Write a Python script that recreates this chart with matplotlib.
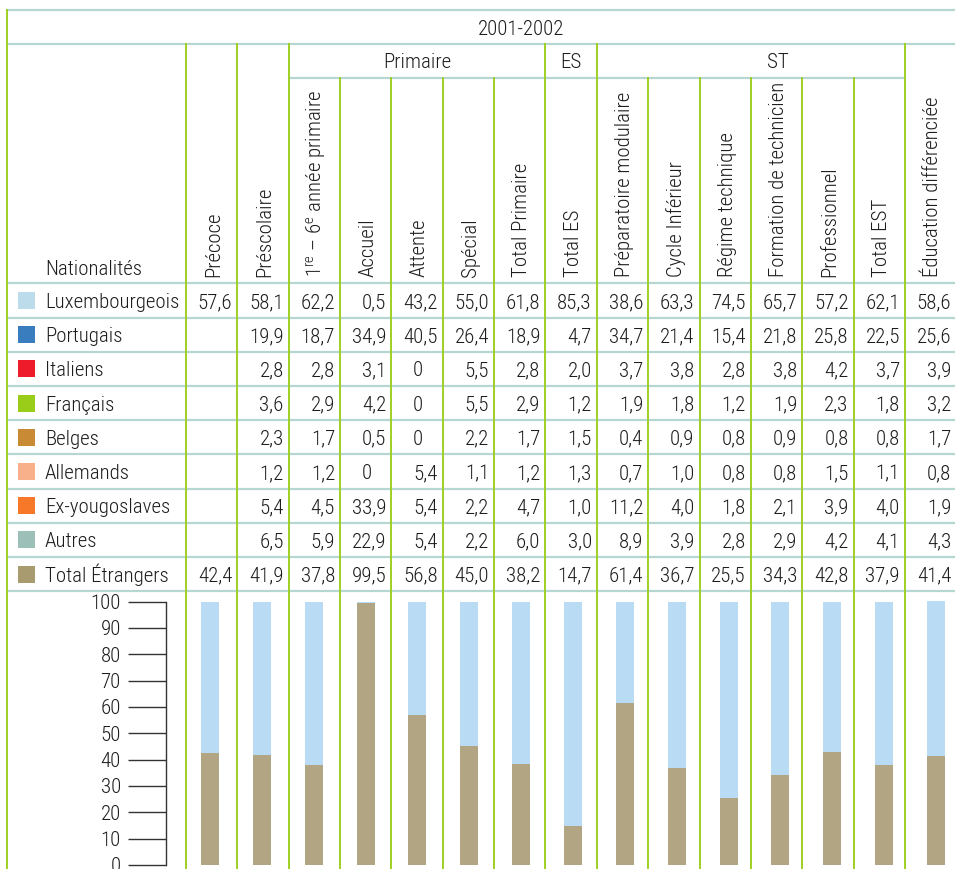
import numpy as np
import matplotlib
matplotlib.use('Agg')
import matplotlib.pyplot as plt
from matplotlib import font_manager

# police étroite : on prend la première dispo
_names = {f.name for f in font_manager.fontManager.ttflist}
FONT = next((n for n in ['Roboto Condensed', 'Fira Sans Condensed', 'Open Sans']
             if n in _names), 'DejaVu Sans')
plt.rcParams['font.family'] = [FONT, 'DejaVu Sans']
plt.rcParams['font.weight'] = 'light'
plt.rcParams['font.stretch'] = 'condensed'
plt.rcParams['mathtext.fontset'] = 'custom'
plt.rcParams['mathtext.rm'] = f'{FONT}:light'
plt.rcParams['mathtext.it'] = f'{FONT}:light'

YEAR = '2001-2002'
COLUMNS = ['Précoce', 'Préscolaire', '1$^{\\mathrm{re}}$ – 6$^{\\mathrm{e}}$ année primaire',
           'Accueil', 'Attente', 'Spécial', 'Total Primaire', 'Total ES',
           'Préparatoire modulaire', 'Cycle Inférieur', 'Régime technique',
           'Formation de technicien', 'Professionnel', 'Total EST',
           'Éducation différenciée']
GROUPS = [('Primaire', 2, 6), ('ES', 7, 7), ('ST', 8, 13)]

NATIONALITIES = ['Luxembourgeois', 'Portugais', 'Italiens', 'Français', 'Belges',
                 'Allemands', 'Ex-yougoslaves', 'Autres', 'Total Étrangers']
NAT_COLORS = ['#bcdcec', '#3a7dbf', '#ee1c2a', '#9acd1a', '#c98a36',
              '#f8b08a', '#f8782a', '#9cc0b8', '#a89b70']

luxembourgeois = [57.6, 58.1, 62.2, 0.5, 43.2, 55.0, 61.8, 85.3, 38.6, 63.3, 74.5, 65.7, 57.2, 62.1, 58.6]
portugais      = [None, 19.9, 18.7, 34.9, 40.5, 26.4, 18.9, 4.7, 34.7, 21.4, 15.4, 21.8, 25.8, 22.5, 25.6]
italiens       = [None, 2.8, 2.8, 3.1, 0, 5.5, 2.8, 2.0, 3.7, 3.8, 2.8, 3.8, 4.2, 3.7, 3.9]
francais       = [None, 3.6, 2.9, 4.2, 0, 5.5, 2.9, 1.2, 1.9, 1.8, 1.2, 1.9, 2.3, 1.8, 3.2]
belges         = [None, 2.3, 1.7, 0.5, 0, 2.2, 1.7, 1.5, 0.4, 0.9, 0.8, 0.9, 0.8, 0.8, 1.7]
allemands      = [None, 1.2, 1.2, 0, 5.4, 1.1, 1.2, 1.3, 0.7, 1.0, 0.8, 0.8, 1.5, 1.1, 0.8]
ex_yougoslaves = [None, 5.4, 4.5, 33.9, 5.4, 2.2, 4.7, 1.0, 11.2, 4.0, 1.8, 2.1, 3.9, 4.0, 1.9]
autres         = [None, 6.5, 5.9, 22.9, 5.4, 2.2, 6.0, 3.0, 8.9, 3.9, 2.8, 2.9, 4.2, 4.1, 4.3]
total_etrangers = [42.4, 41.9, 37.8, 99.5, 56.8, 45.0, 38.2, 14.7, 61.4, 36.7, 25.5, 34.3, 42.8, 37.9, 41.4]

ROWS = [luxembourgeois, portugais, italiens, francais, belges,
        allemands, ex_yougoslaves, autres, total_etrangers]

BAR_LUX = '#b9dbf3'
BAR_ETR = '#b2a584'
HLINE = '#b6d6d2'
VLINE = '#9fd023'
TXT = '#1e1c1d'
FS = 15

W, H = 955, 869
X0, XC, CW = 7, 186, 51.35       # bord gauche, début des colonnes, largeur colonne
Y_TOP, Y_SUB, Y_SUB2, Y_HEAD = 10, 44, 78, 283.3
RH = 34.2


def fmt(v):
    if v is None:
        return ''
    if v == 0:
        return '0'
    return f'{v:.1f}'.replace('.', ',')


fig = plt.figure(figsize=(W / 100, H / 100), dpi=100)
ax = fig.add_axes([0, 0, 1, 1])
ax.set_xlim(0, W)
ax.set_ylim(H, 0)
ax.axis('off')

ncol = len(COLUMNS)
edges = [XC + i * CW for i in range(ncol + 1)]

# lignes horizontales
for y in [Y_TOP, Y_SUB] + [Y_HEAD + k * RH for k in range(len(ROWS) + 1)]:
    ax.plot([X0, W], [y, y], color=HLINE, lw=1.6, zorder=1)
ax.plot([edges[2], edges[14]], [Y_SUB2, Y_SUB2], color=HLINE, lw=1.6, zorder=1)

# lignes verticales
group_edges = {0, 1, 2, 7, 8, 14}
ax.plot([X0, X0], [Y_TOP, H], color=VLINE, lw=1.4, zorder=2)
for i, x in enumerate(edges[:-1]):
    y_start = Y_SUB if i in group_edges else Y_SUB2
    ax.plot([x, x], [y_start, H], color=VLINE, lw=1.4, zorder=2)

# en-têtes
ax.text(521, 35, YEAR, fontsize=FS, color=TXT, ha='center', va='baseline')
group_x = {'Primaire': 417, 'ES': 571, 'ST': 778}
for name, a, b in GROUPS:
    ax.text(group_x[name], 68, name, fontsize=FS, color=TXT, ha='center', va='baseline')
ax.text(45, 275, 'Nationalités', fontsize=FS, color=TXT, ha='left', va='baseline')
for i, col in enumerate(COLUMNS):
    cx = (edges[i] + edges[i + 1]) / 2
    ax.text(cx + 2, 277, col, fontsize=FS, color=TXT, rotation=90,
            ha='center', va='bottom')

# lignes du tableau
for r, (nat, color, vals) in enumerate(zip(NATIONALITIES, NAT_COLORS, ROWS)):
    y_top = Y_HEAD + r * RH
    yc = y_top + RH / 2
    ax.add_patch(plt.Rectangle((18, yc - 8.5), 17, 17, color=color, lw=0, zorder=3))
    ax.text(45, yc + 7.5, nat, fontsize=FS, color=TXT, ha='left', va='baseline')
    for i, v in enumerate(vals):
        s = fmt(v)
        if not s:
            continue
        xr = edges[i + 1] - 5
        if v == 0:
            xr -= 15   # aligné sur la virgule
        ax.text(xr, yc + 7.5, s, fontsize=FS, color=TXT, ha='right', va='baseline')

# graphique en barres empilées (pas légèrement plus large que les colonnes)
y0_px, y100_px, xa_px = 865, 601.5, 166
BAR_STEP, BAR_X0 = 51.86, 184.07
bax = fig.add_axes([xa_px / W, (H - y0_px) / H, (W - xa_px) / W, (y0_px - y100_px) / H])
bax.set_facecolor('none')
bax.set_xlim((xa_px - BAR_X0) / BAR_STEP, (W - BAR_X0) / BAR_STEP)
bax.set_ylim(0, 100)
pos = np.arange(ncol) + 0.5
bw = 18 / BAR_STEP
bax.bar(pos, total_etrangers, width=bw, color=BAR_ETR, lw=0, clip_on=False)
bax.bar(pos, luxembourgeois, bottom=total_etrangers, width=bw, color=BAR_LUX, lw=0, clip_on=False)
for s in ['top', 'right', 'bottom']:
    bax.spines[s].set_visible(False)
bax.spines['left'].set_color('#333333')
bax.spines['left'].set_linewidth(1.0)
bax.set_xticks([])
bax.set_yticks(np.arange(0, 101, 10))
bax.tick_params(axis='y', direction='out', length=27.5, width=1.0, color='#333333',
                pad=5, labelsize=FS, labelcolor=TXT)

fig.savefig('out.png', dpi=100)
